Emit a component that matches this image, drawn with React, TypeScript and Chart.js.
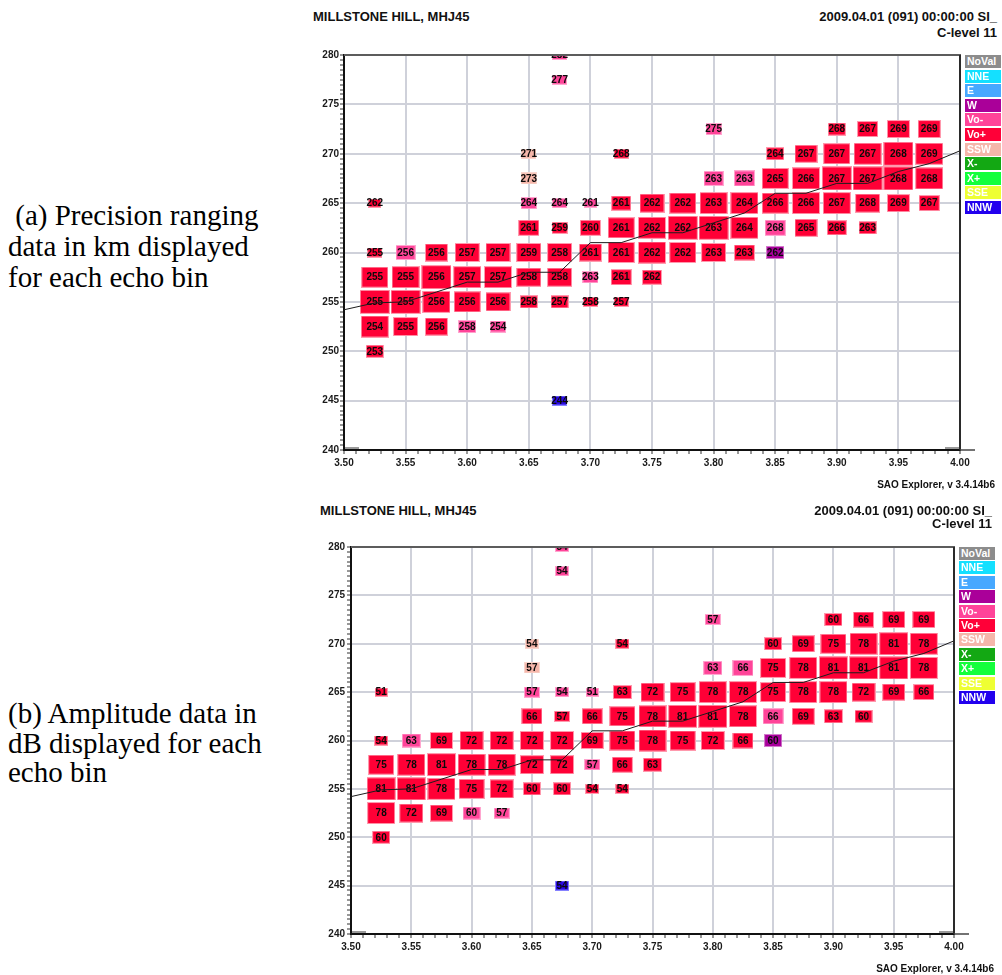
import React, { useEffect, useRef } from 'react';
import { Chart, registerables } from 'chart.js';

Chart.register(...registerables);

const SANS = '"Liberation Sans", Arial, Helvetica, sans-serif';
const SERIF = '"Liberation Serif", "Times New Roman", serif';

// ---------- text ----------
const stationTitle = 'MILLSTONE HILL, MHJ45';
const timeTitle = '2009.04.01 (091) 00:00:00 SI_';
const levelTitle = 'C-level 11';
const footerText = 'SAO Explorer, v 3.4.14b6';
const captionA = ['\u00a0(a) Precision ranging', 'data in km displayed', 'for each echo bin'];
const captionB = ['(b) Amplitude data in', 'dB displayed for each', 'echo bin'];

// ---------- legend ----------
const legendNames = ['NoVal', 'NNE', 'E', 'W', 'Vo-', 'Vo+', 'SSW', 'X-', 'X+', 'SSE', 'NNW'];
const legendColors = ['#8c8c8c', '#14e0ff', '#47a8ff', '#aa0099', '#ff4499', '#ff0038', '#f5b6aa', '#13a813', '#14ff3c', '#eeff33', '#2200ee'];

// ---------- axes ----------
const xMin = 3.5;
const xMax = 4.0;
const yMin = 240;
const yMax = 280;
const xMajorTicks = [3.5, 3.55, 3.6, 3.65, 3.7, 3.75, 3.8, 3.85, 3.9, 3.95, 4.0];
const xTickLabels = ['3.50', '3.55', '3.60', '3.65', '3.70', '3.75', '3.80', '3.85', '3.90', '3.95', '4.00'];
const yMajorTicks = [240, 245, 250, 255, 260, 265, 270, 275, 280];
const yTickLabels = ['240', '245', '250', '255', '260', '265', '270', '275', '280'];
const xMinorStep = 0.01;
const yMinorStep = 0.5;

// ---------- echo bins ----------
const echoFreq = [
  3.525, 3.525, 3.525, 3.525, 3.525, 3.525,
  3.55, 3.55, 3.55, 3.55,
  3.575, 3.575, 3.575, 3.575,
  3.6, 3.6, 3.6, 3.6,
  3.625, 3.625, 3.625, 3.625,
  3.65, 3.65, 3.65, 3.65, 3.65, 3.65, 3.65,
  3.675, 3.675, 3.675, 3.675, 3.675, 3.675, 3.675, 3.675,
  3.7, 3.7, 3.7, 3.7, 3.7,
  3.725, 3.725, 3.725, 3.725, 3.725, 3.725,
  3.75, 3.75, 3.75, 3.75,
  3.775, 3.775, 3.775,
  3.8, 3.8, 3.8, 3.8, 3.8,
  3.825, 3.825, 3.825, 3.825,
  3.85, 3.85, 3.85, 3.85, 3.85,
  3.875, 3.875, 3.875, 3.875,
  3.9, 3.9, 3.9, 3.9, 3.9,
  3.925, 3.925, 3.925, 3.925, 3.925,
  3.95, 3.95, 3.95, 3.95,
  3.975, 3.975, 3.975, 3.975,
];
const echoBin = [
  265, 260, 257.5, 255, 252.5, 250,
  260, 257.5, 255, 252.5,
  260, 257.5, 255, 252.5,
  260, 257.5, 255, 252.5,
  260, 257.5, 255, 252.5,
  270, 267.5, 265, 262.5, 260, 257.5, 255,
  280, 277.5, 265, 262.5, 260, 257.5, 255, 245,
  265, 262.5, 260, 257.5, 255,
  270, 265, 262.5, 260, 257.5, 255,
  265, 262.5, 260, 257.5,
  265, 262.5, 260,
  272.5, 267.5, 265, 262.5, 260,
  267.5, 265, 262.5, 260,
  270, 267.5, 265, 262.5, 260,
  270, 267.5, 265, 262.5,
  272.5, 270, 267.5, 265, 262.5,
  272.5, 270, 267.5, 265, 262.5,
  272.5, 270, 267.5, 265,
  272.5, 270, 267.5, 265,
];
const echoRange = [
  262, 255, 255, 255, 254, 253,
  256, 255, 255, 255,
  256, 256, 256, 256,
  257, 257, 256, 258,
  257, 257, 256, 254,
  271, 273, 264, 261, 259, 258, 258,
  282, 277, 264, 259, 258, 258, 257, 244,
  261, 260, 261, 263, 258,
  268, 261, 261, 261, 261, 257,
  262, 262, 262, 262,
  262, 262, 262,
  275, 263, 263, 263, 263,
  263, 264, 264, 263,
  264, 265, 266, 268, 262,
  267, 266, 266, 265,
  268, 267, 267, 267, 266,
  267, 267, 267, 268, 263,
  269, 268, 268, 269,
  269, 269, 268, 267,
];
const echoAmp = [
  51, 54, 75, 81, 78, 60,
  63, 78, 81, 72,
  69, 81, 78, 69,
  72, 78, 75, 60,
  72, 78, 72, 57,
  54, 57, 57, 66, 72, 72, 60,
  54, 54, 54, 57, 72, 72, 60, 54,
  51, 66, 69, 57, 54,
  54, 63, 75, 75, 66, 54,
  72, 78, 78, 63,
  75, 81, 75,
  57, 63, 78, 81, 72,
  66, 78, 78, 66,
  60, 75, 75, 66, 60,
  69, 78, 78, 69,
  60, 75, 81, 78, 63,
  66, 78, 81, 72, 60,
  69, 81, 81, 69,
  69, 78, 78, 66,
];
const echoMode = [
  'Vo+', 'Vo+', 'Vo+', 'Vo+', 'Vo+', 'Vo+',
  'Vo-', 'Vo+', 'Vo+', 'Vo+',
  'Vo+', 'Vo+', 'Vo+', 'Vo+',
  'Vo+', 'Vo+', 'Vo+', 'Vo-',
  'Vo+', 'Vo+', 'Vo+', 'Vo-',
  'SSW', 'SSW', 'Vo-', 'Vo+', 'Vo+', 'Vo+', 'Vo+',
  'Vo-', 'Vo-', 'Vo-', 'Vo+', 'Vo+', 'Vo+', 'Vo+', 'NNW',
  'Vo-', 'Vo+', 'Vo+', 'Vo-', 'Vo+',
  'Vo+', 'Vo+', 'Vo+', 'Vo+', 'Vo+', 'Vo+',
  'Vo+', 'Vo+', 'Vo+', 'Vo+',
  'Vo+', 'Vo+', 'Vo+',
  'Vo-', 'Vo-', 'Vo+', 'Vo+', 'Vo+',
  'Vo-', 'Vo+', 'Vo+', 'Vo+',
  'Vo+', 'Vo+', 'Vo+', 'Vo-', 'W',
  'Vo+', 'Vo+', 'Vo+', 'Vo+',
  'Vo+', 'Vo+', 'Vo+', 'Vo+', 'Vo+',
  'Vo+', 'Vo+', 'Vo+', 'Vo+', 'Vo+',
  'Vo+', 'Vo+', 'Vo+', 'Vo+',
  'Vo+', 'Vo+', 'Vo+', 'Vo+',
];

// ---------- height trace ----------
const traceFreq = [3.5, 3.525, 3.55, 3.575, 3.6, 3.625, 3.65, 3.675, 3.7, 3.725, 3.75, 3.775, 3.8, 3.825, 3.85, 3.875, 3.9, 3.925, 3.95, 3.975, 4.0];
const traceHeight = [254.2, 254.9, 255.0, 256.0, 257.0, 257.0, 258.0, 258.0, 261.0, 261.0, 262.0, 262.0, 263.0, 264.0, 266.0, 266.0, 267.0, 267.0, 268.2, 269.0, 270.3];

// ---------- styles ----------
const modeFill: Record<string, string> = {
  'Vo+': '#ff0036', 'Vo-': '#ff4499', SSW: '#f5b6aa', W: '#a8009c', NNW: '#2a08e6',
};
const modeEdge: Record<string, string> = {
  'Vo+': '#ff99ad', 'Vo-': '#ffa6cf', SSW: '#f9d6ce', W: '#d27acb', NNW: '#8581ff',
};
const GRID = '#cfd1da';

// box size (data units) grows with echo amplitude
const boxWidthMHz = (a: number) => 0.0104 + (a - 51) * 0.000463;
const boxHeightKm = (a: number) => 0.88 + (a - 51) * 0.0506;

const boxCache: Record<string, HTMLCanvasElement> = {};
function boxCanvas(w: number, h: number, mode: string): HTMLCanvasElement {
  const key = `${w}x${h}:${mode}`;
  if (boxCache[key]) return boxCache[key];
  const c = document.createElement('canvas');
  c.width = w;
  c.height = h;
  const ctx = c.getContext('2d')!;
  ctx.fillStyle = modeEdge[mode];
  ctx.fillRect(0, 0, w, h);
  ctx.fillStyle = modeFill[mode];
  ctx.fillRect(1, 1, w - 2, h - 2);
  boxCache[key] = c;
  return c;
}

const near = (a: number, b: number) => Math.abs(a - b) < 1e-6;
const xMajorIndex = (v: number) => xMajorTicks.findIndex((t) => near(t, v));
const yMajorIndex = (v: number) => yMajorTicks.findIndex((t) => near(t, v));

const cellLabelPlugin = {
  id: 'cellLabels',
  afterDatasetDraw(chart: any, args: any, opts: any) {
    if (args.index !== 1 || !opts.values) return;
    const { ctx, chartArea: a } = chart;
    ctx.save();
    ctx.beginPath();
    ctx.rect(a.left, a.top, a.right - a.left, a.bottom - a.top);
    ctx.clip();
    ctx.font = `bold 10px ${SANS}`;
    ctx.fillStyle = '#0a0a0a';
    ctx.textAlign = 'center';
    ctx.textBaseline = 'middle';
    args.meta.data.forEach((el: any, i: number) => {
      ctx.fillText(String(opts.values[i]), el.x, el.y + 0.5);
    });
    ctx.restore();
  },
};

const framePlugin = {
  id: 'frame',
  afterDraw(chart: any) {
    const { ctx, chartArea: a } = chart;
    ctx.save();
    ctx.lineWidth = 2;
    ctx.strokeStyle = '#5c5c5c';
    ctx.beginPath();
    ctx.moveTo(a.left, a.top);
    ctx.lineTo(a.right + 1, a.top);
    ctx.stroke();
    ctx.strokeStyle = '#2a2a2a';
    ctx.beginPath();
    ctx.moveTo(a.right, a.top);
    ctx.lineTo(a.right, a.bottom);
    ctx.stroke();
    ctx.lineWidth = 1.5;
    ctx.strokeStyle = '#444';
    ctx.beginPath();
    ctx.moveTo(a.right, a.bottom);
    ctx.lineTo(a.right + 15, a.bottom);
    ctx.stroke();
    ctx.lineWidth = 2;
    ctx.strokeStyle = '#9a9a9a';
    ctx.beginPath();
    ctx.moveTo(a.left + 1, a.bottom - 2);
    ctx.lineTo(a.left + 15, a.bottom - 2);
    ctx.moveTo(a.right - 15, a.bottom - 2);
    ctx.lineTo(a.right - 1, a.bottom - 2);
    ctx.stroke();
    ctx.restore();
  },
};

type Geom = {
  left: number; top: number; width: number; height: number;
  yAxisWidth: number; xAxisHeight: number; padTop: number; padRight: number; yTickPad: number;
};

function buildChart(canvas: HTMLCanvasElement, values: number[], g: Geom) {
  const points = echoFreq.map((f, i) => ({ x: f, y: echoBin[i], amp: echoAmp[i], mode: echoMode[i] }));
  const trace = traceFreq.map((f, i) => ({ x: f, y: traceHeight[i] }));
  const tickFont = { family: SANS, size: 10, weight: 'bold' as const };
  return new Chart(canvas, {
    type: 'scatter',
    data: {
      datasets: [
        {
          type: 'line',
          data: trace,
          borderColor: '#1c1c1c',
          borderWidth: 1,
          pointRadius: 0,
          fill: false,
          tension: 0,
          clip: 0,
        } as any,
        {
          type: 'scatter',
          data: points,
          pointRadius: 3,
          clip: 0,
          pointStyle: (c: any) => {
            const r = c.raw;
            if (!r) return 'rect';
            const xs = c.chart.scales.x;
            const ys = c.chart.scales.y;
            const pxX = Math.abs(xs.getPixelForValue(xMax) - xs.getPixelForValue(xMin)) / (xMax - xMin);
            const pxY = Math.abs(ys.getPixelForValue(yMin) - ys.getPixelForValue(yMax)) / (yMax - yMin);
            const w = Math.max(4, Math.round(boxWidthMHz(r.amp) * pxX));
            const h = Math.max(4, Math.round(boxHeightKm(r.amp) * pxY));
            return boxCanvas(w, h, r.mode);
          },
        } as any,
      ],
    },
    options: {
      responsive: false,
      devicePixelRatio: 1,
      animation: false,
      events: [],
      layout: { padding: { top: g.padTop, right: g.padRight, left: 0, bottom: 0 } },
      plugins: {
        legend: { display: false },
        tooltip: { enabled: false },
        cellLabels: { values },
      } as any,
      scales: {
        x: {
          type: 'linear',
          min: xMin,
          max: xMax,
          afterFit: (s: any) => { s.height = g.xAxisHeight; },
          ticks: {
            stepSize: xMinorStep,
            autoSkip: false,
            maxRotation: 0,
            minRotation: 0,
            padding: 3,
            color: '#1a1a1a',
            font: tickFont,
            callback: (v: any) => {
              const i = xMajorIndex(Number(v));
              return i >= 0 ? xTickLabels[i] : '';
            },
          },
          grid: {
            color: (c: any) => (c.tick && xMajorIndex(c.tick.value) >= 0 ? GRID : 'rgba(0,0,0,0)'),
            lineWidth: 2,
            tickColor: '#333',
            tickLength: 4,
            tickWidth: 1,
          },
          border: { display: true, color: '#111', width: 2 },
        },
        y: {
          type: 'linear',
          min: yMin,
          max: yMax,
          afterFit: (s: any) => { s.width = g.yAxisWidth; },
          ticks: {
            stepSize: yMinorStep,
            autoSkip: false,
            padding: g.yTickPad,
            color: '#1a1a1a',
            font: tickFont,
            callback: (v: any) => {
              const i = yMajorIndex(Number(v));
              return i >= 0 ? yTickLabels[i] : '';
            },
          },
          grid: {
            color: (c: any) => (c.tick && yMajorIndex(c.tick.value) >= 0 ? GRID : 'rgba(0,0,0,0)'),
            lineWidth: 2,
            tickColor: '#333',
            tickLength: 4,
            tickWidth: 1,
          },
          border: { display: true, color: '#111', width: 2 },
        },
      },
    } as any,
    plugins: [cellLabelPlugin, framePlugin],
  });
}

function IonoChart({ g, values }: { g: Geom; values: number[] }) {
  const ref = useRef<HTMLCanvasElement>(null);
  useEffect(() => {
    const chart = buildChart(ref.current!, values, g);
    return () => chart.destroy();
  }, []);
  return (
    <canvas
      ref={ref}
      width={g.width}
      height={g.height}
      style={{ position: 'absolute', left: g.left, top: g.top, width: g.width, height: g.height, display: 'block' }}
    />
  );
}

function Legend({ left, top, pitch, w, h }: { left: number; top: number; pitch: number; w: number; h: number }) {
  return (
    <>
      {legendNames.map((n, i) => (
        <div
          key={n}
          style={{
            position: 'absolute', left, top: top + i * pitch, width: w, height: h,
            background: legendColors[i], color: '#fff', fontFamily: SANS, fontWeight: 'bold',
            fontSize: 10.5, lineHeight: `${h}px`, paddingLeft: 2, boxSizing: 'border-box', whiteSpace: 'nowrap',
          }}
        >
          {n}
        </div>
      ))}
    </>
  );
}

const headStyle: React.CSSProperties = {
  position: 'absolute', fontFamily: SANS, fontWeight: 'bold', fontSize: 13, lineHeight: '15px',
  color: '#111', whiteSpace: 'nowrap',
};

function Header({ titleLeft, titleTop, rightEdge, levelTop }: { titleLeft: number; titleTop: number; rightEdge: number; levelTop: number }) {
  return (
    <>
      <div style={{ ...headStyle, left: titleLeft, top: titleTop }}>{stationTitle}</div>
      <div style={{ ...headStyle, right: 1002 - rightEdge, top: titleTop, textAlign: 'right' }}>{timeTitle}</div>
      <div style={{ ...headStyle, right: 1002 - rightEdge, top: levelTop, textAlign: 'right' }}>{levelTitle}</div>
    </>
  );
}

function Footer({ rightEdge, top }: { rightEdge: number; top: number }) {
  return (
    <div style={{ ...headStyle, fontSize: 10, lineHeight: '14px', right: 1002 - rightEdge, top }}>{footerText}</div>
  );
}

function Caption({ lines, top, lh }: { lines: string[]; top: number; lh: number }) {
  return (
    <div
      style={{
        position: 'absolute', left: 8, top, fontFamily: SERIF, fontSize: 29, lineHeight: `${lh}px`,
        color: '#000', whiteSpace: 'nowrap',
      }}
    >
      {lines.map((l, i) => (
        <div key={i}>{l}</div>
      ))}
    </div>
  );
}

const topGeom: Geom = { left: 300, top: 40, width: 700, height: 445, yAxisWidth: 44, xAxisHeight: 35, padTop: 15, padRight: 40, yTickPad: 1 };
const bottomGeom: Geom = { left: 300, top: 530, width: 700, height: 440, yAxisWidth: 51, xAxisHeight: 36, padTop: 17, padRight: 46, yTickPad: 2 };

export default function App() {
  return (
    <div style={{ position: 'absolute', left: 0, top: 0, width: 1002, height: 975, background: '#fff', overflow: 'hidden' }}>
      <Caption lines={captionA} top={200} lh={31} />
      <Caption lines={captionB} top={699} lh={29.5} />

      <Header titleLeft={313} titleTop={9} rightEdge={997} levelTop={25} />
      <IonoChart g={topGeom} values={echoRange} />
      <Legend left={965} top={55} pitch={14.6} w={36} h={13} />
      <Footer rightEdge={995} top={478} />

      <Header titleLeft={320} titleTop={503} rightEdge={992} levelTop={516} />
      <IonoChart g={bottomGeom} values={echoAmp} />
      <Legend left={959} top={547} pitch={14.4} w={36} h={13} />
      <Footer rightEdge={994} top={962} />
    </div>
  );
}
